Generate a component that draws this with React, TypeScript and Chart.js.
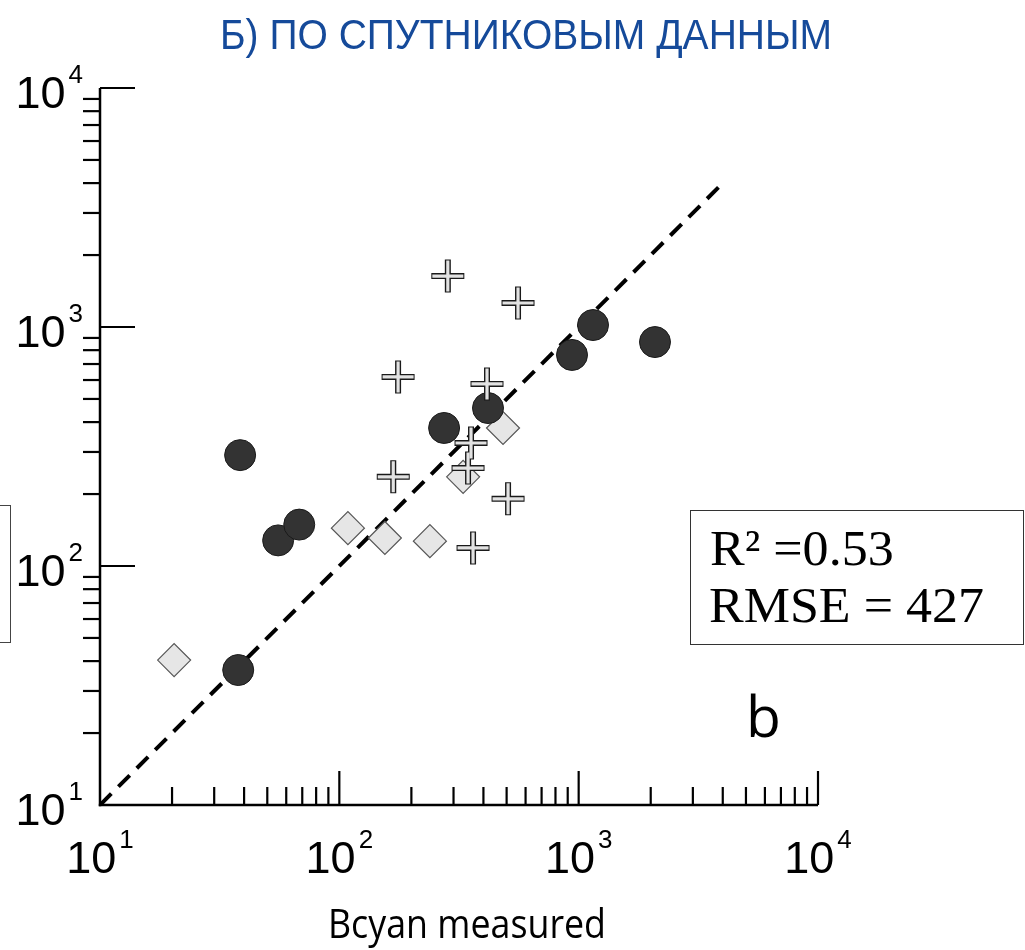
import React, { useEffect, useRef } from "react";
import { Chart, registerables } from "chart.js";

Chart.register(...registerables);

// ---- data ----
const circleX = [38.5, 55.5, 68, 37.8, 274, 418, 938, 1148, 2084];
const circleY = [291, 128, 149, 36.7, 378, 458, 764, 1019, 865];
const diamondX = [20.4, 108.6, 155, 239, 329, 483];
const diamondY = [40.4, 144, 131, 127, 236, 378];
const crossX = [284, 558, 176, 414, 355, 345, 168, 507, 362];
const crossY = [1633, 1260, 618, 578, 327, 257, 236, 191, 119];
const oneToOneX = [10, 3900];
const oneToOneY = [10, 3900];

const axisMin = 10;
const axisMax = 10000;
const majorTicks = [10, 100, 1000, 10000];
const tickExponents = ["1", "2", "3", "4"];
const minorMultipliers = [2, 3, 4, 5, 6, 7, 8, 9];

const titleText = "Б) ПО СПУТНИКОВЫМ ДАННЫМ";
const xAxisTitle = "Bcyan measured";
const statsLines = ["R² =0.53", "RMSE = 427"];
const panelLetter = "b";

const toPoints = (xs: number[], ys: number[]) => xs.map((x, i) => ({ x, y: ys[i] }));

// draw text condensed horizontally so that it spans the given width
function fitText(ctx: CanvasRenderingContext2D, text: string, left: number, baseline: number, font: string, width: number) {
  ctx.save();
  ctx.font = font;
  ctx.textAlign = "left";
  const w = ctx.measureText(text).width;
  ctx.translate(left, baseline);
  ctx.scale(width / w, 1);
  ctx.fillText(text, 0, 0);
  ctx.restore();
}

const decorPlugin = {
  id: "decor",
  afterDraw(chart: any) {
    const ctx: CanvasRenderingContext2D = chart.ctx;
    const xs = chart.scales.x;
    const ys = chart.scales.y;
    const x0 = xs.getPixelForValue(axisMin);
    const x1 = xs.getPixelForValue(axisMax);
    const y0 = ys.getPixelForValue(axisMin);
    const y1 = ys.getPixelForValue(axisMax);
    ctx.save();
    ctx.strokeStyle = "#000";
    ctx.lineCap = "butt";
    const seg = (ax: number, ay: number, bx: number, by: number, w: number) => {
      ctx.lineWidth = w;
      ctx.beginPath();
      ctx.moveTo(ax, ay);
      ctx.lineTo(bx, by);
      ctx.stroke();
    };
    // axis lines
    seg(x0, y0 + 1.2, x0, y1, 2.5);
    seg(x0 - 1.2, y0, x1, y0, 2.5);
    // ticks
    majorTicks.forEach((v) => {
      const py = ys.getPixelForValue(v);
      if (v !== axisMin) seg(x0, py, x0 + 35, py, 2.2);
      const px = xs.getPixelForValue(v);
      if (v !== axisMin) seg(px, y0, px, y0 - 34, 2.2);
      if (v < axisMax) {
        minorMultipliers.forEach((m) => {
          const mv = v * m;
          const my = ys.getPixelForValue(mv);
          seg(x0 - 17, my, x0, my, 2.2);
          const mx = xs.getPixelForValue(mv);
          seg(mx, y0, mx, y0 - 18, 2.2);
        });
      }
    });
    // tick labels
    ctx.fillStyle = "#000";
    ctx.textBaseline = "alphabetic";
    ctx.textAlign = "left";
    const bigFont = '45px "Liberation Sans", Arial, sans-serif';
    const supFont = '26px "Liberation Sans", Arial, sans-serif';
    majorTicks.forEach((v, i) => {
      ctx.font = bigFont;
      const w1 = ctx.measureText("10").width;
      ctx.font = supFont;
      const w2 = ctx.measureText(tickExponents[i]).width;
      const total = w1 + 3 + w2;
      // x label
      const px = xs.getPixelForValue(v);
      let sx = px - total / 2;
      ctx.font = bigFont;
      ctx.fillText("10", sx, 873);
      ctx.font = supFont;
      ctx.fillText(tickExponents[i], sx + w1 + 3, 848);
      // y label
      const py = ys.getPixelForValue(v);
      sx = 83 - total;
      ctx.font = bigFont;
      ctx.fillText("10", sx, py + 20);
      ctx.font = supFont;
      ctx.fillText(tickExponents[i], sx + w1 + 3, py - 5);
    });
    // x axis title
    fitText(ctx, xAxisTitle, 328, 938, '40px "Open Sans", sans-serif', 278);
    // title
    ctx.fillStyle = "#154a9a";
    fitText(ctx, titleText, 220, 49, '43px "Liberation Sans", Arial, sans-serif', 612);
    // stats box
    ctx.strokeStyle = "#333";
    ctx.lineWidth = 1;
    ctx.strokeRect(690.5, 510.5, 333, 134);
    ctx.fillStyle = "#000";
    const serif = '50px "Liberation Serif", "Times New Roman", serif';
    ctx.font = serif;
    const k = 275 / ctx.measureText(statsLines[1]).width;
    const w0 = ctx.measureText(statsLines[0]).width * k;
    fitText(ctx, statsLines[0], 710, 565, serif, w0);
    fitText(ctx, statsLines[1], 709, 622, serif, 275);
    // partial box at left edge
    ctx.strokeStyle = "#444";
    ctx.strokeRect(-5, 505.5, 15.5, 137);
    // panel letter
    ctx.font = '57px "Open Sans", sans-serif';
    ctx.textAlign = "left";
    ctx.fillText(panelLetter, 746, 737);
    ctx.restore();
  },
};

export default function App() {
  const ref = useRef<HTMLCanvasElement | null>(null);
  useEffect(() => {
    if (!ref.current) return;
    const crosses = toPoints(crossX, crossY);
    const chart = new Chart(ref.current, {
      type: "scatter",
      data: {
        datasets: [
          {
            data: toPoints(oneToOneX, oneToOneY),
            showLine: true,
            borderColor: "#000",
            borderWidth: 4,
            borderDash: [16, 10],
            pointRadius: 0,
            fill: false,
            order: 4,
          } as any,
          {
            data: toPoints(diamondX, diamondY),
            pointStyle: "rectRot",
            pointRadius: 16.5,
            backgroundColor: "#e6e6e6",
            borderColor: "#555",
            borderWidth: 1.2,
            order: 3,
          },
          {
            data: toPoints(circleX, circleY),
            pointStyle: "circle",
            pointRadius: 15.5,
            backgroundColor: "#333333",
            borderColor: "#1a1a1a",
            borderWidth: 1,
            order: 2,
          },
          {
            data: crosses,
            pointStyle: "cross",
            pointRadius: 16.5,
            borderColor: "#1a1a1a",
            borderWidth: 6,
            order: 1,
          },
          {
            data: crosses,
            pointStyle: "cross",
            pointRadius: 15.5,
            borderColor: "#e2e2e2",
            borderWidth: 3.2,
            order: 0,
          },
        ],
      },
      options: {
        animation: false,
        responsive: false,
        events: [],
        layout: { padding: { left: 100, right: 207, top: 88, bottom: 145 } },
        plugins: { legend: { display: false }, tooltip: { enabled: false } },
        scales: {
          x: { type: "logarithmic", min: axisMin, max: axisMax, display: false },
          y: { type: "logarithmic", min: axisMin, max: axisMax, display: false },
        },
      },
      plugins: [decorPlugin],
    });
    return () => chart.destroy();
  }, []);
  return (
    <div style={{ position: "absolute", left: 0, top: 0, width: 1025, height: 950, background: "#fff" }}>
      <canvas ref={ref} width={1025} height={950} style={{ display: "block" }} />
    </div>
  );
}
